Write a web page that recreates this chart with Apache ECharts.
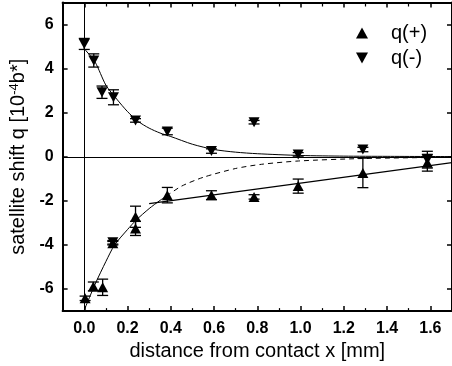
<!DOCTYPE html>
<html>
<head>
<meta charset="utf-8">
<script src="https://cdn.jsdelivr.net/npm/echarts@6/dist/echarts.min.js"></script>
<style>
html,body{margin:0;padding:0;background:#fff;}
#c{width:452px;height:366px;}
</style>
</head>
<body>
<div id="c"></div>
<script>
// ---- data ----
var qPlusX   = [0.004, 0.042, 0.085, 0.132, 0.237, 0.237, 0.384, 0.588, 0.785, 0.989, 1.288, 1.586];
var qPlusY   = [-6.42, -5.88, -5.92, -3.92, -2.72, -3.25, -1.74, -1.74, -1.82, -1.33, -0.73, -0.27];
var qPlusErr = [0.10, 0.20, 0.37, 0.08, 0.48, 0.32, 0.35, 0.20, 0.10, 0.32, 0.67, 0.38];

var qMinusX   = [0.0, 0.044, 0.082, 0.132, 0.135, 0.237, 0.384, 0.588, 0.785, 0.989, 1.288, 1.586];
var qMinusY   = [5.12, 4.37, 2.93, -3.88, 2.70, 1.65, 1.15, 0.26, 1.57, 0.11, 0.33, -0.13];
var qMinusErr = [0.25, 0.30, 0.28, 0.08, 0.34, 0.08, 0.15, 0.10, 0.08, 0.08, 0.10, 0.38];

// fit curves
var fitMinusX = [0.0, 0.05, 0.1, 0.15, 0.2, 0.25, 0.3, 0.35, 0.4, 0.5, 0.6, 0.7, 0.8, 1.0, 1.2, 1.4, 1.7];
var fitMinusY = [4.9, 4.3, 3.25, 2.62, 2.05, 1.6, 1.3, 1.08, 0.92, 0.57, 0.33, 0.21, 0.14, 0.06, 0.03, 0.02, 0.01];

var fitPlusSolidX = [0.0, 0.05, 0.1, 0.14, 0.2, 0.24, 0.3, 0.35, 0.38];
var fitPlusSolidY = [-6.95, -5.78, -4.75, -4.0, -3.3, -2.87, -2.35, -1.98, -1.78];

var fitPlusDashX = [0.38, 0.45, 0.55, 0.7, 0.82, 0.99, 1.28, 1.7];
var fitPlusDashY = [-1.78, -1.33, -0.93, -0.53, -0.34, -0.19, -0.08, -0.02];

var linFitX = [0.30, 1.70];
var linFitY = [-2.12, -0.26];

var xMin = -0.1, xMax = 1.7, yMin = -7, yMax = 7;

// ---- helpers ----
function pairs(xs, ys){ return xs.map(function(x,i){ return [x, ys[i]]; }); }
function errData(xs, ys, es){ return xs.map(function(x,i){ return [x, ys[i]-es[i], ys[i]+es[i]]; }); }

var FONT = "'Liberation Sans', Arial, sans-serif";

function errorBarSeries(name, xs, ys, es){
  return {
    type: 'custom',
    name: name + '_err',
    silent: true,
    z: 3,
    renderItem: function(params, api){
      var x = api.value(0);
      var lo = api.coord([x, api.value(1)]);
      var hi = api.coord([x, api.value(2)]);
      var cw = 5.5;
      var st = {stroke:'#000', lineWidth:1.3};
      return {
        type:'group',
        children:[
          {type:'line', shape:{x1:lo[0], y1:lo[1], x2:hi[0], y2:hi[1]}, style:st},
          {type:'line', shape:{x1:lo[0]-cw, y1:lo[1], x2:lo[0]+cw, y2:lo[1]}, style:st},
          {type:'line', shape:{x1:hi[0]-cw, y1:hi[1], x2:hi[0]+cw, y2:hi[1]}, style:st}
        ]
      };
    },
    encode:{x:0, y:[1,2]},
    data: errData(xs, ys, es)
  };
}

function lineSeries(xs, ys, dashed){
  return {
    type:'line',
    data: pairs(xs, ys),
    showSymbol:false,
    symbol:'none',
    smooth:0.25,
    silent:true,
    z:2,
    lineStyle:{color:'#000', width:1, type: dashed ? [5,4] : 'solid'}
  };
}

var axisCommon = {
  type:'value',
  splitLine:{show:false},
  axisLine:{show:true, onZero:false, lineStyle:{color:'#000', width:2}},
  axisTick:{show:true, inside:true, length:5, lineStyle:{color:'#000', width:1.5}}
};

var chart = echarts.init(document.getElementById('c'), null, {renderer:'canvas'});
chart.setOption({
  animation:false,
  backgroundColor:'#fff',
  textStyle:{fontFamily:FONT},
  grid:{left:56, top:2.5, width:397, height:309.5, containLabel:false},
  legend:{
    orient:'vertical',
    left:356, top:23, padding:0,
    itemWidth:12, itemHeight:11, itemGap:5,
    textStyle:{fontFamily:FONT, fontSize:20, color:'#000', padding:[0,0,0,18]},
    data:[
      {name:'q(+)', icon:'triangle', itemStyle:{color:'#000', opacity:1}},
      {name:'q(-)', icon:'path://M0,0L10,0L5,9Z', itemStyle:{color:'#000', opacity:1}}
    ]
  },
  xAxis:[
    Object.assign({}, axisCommon, {
      position:'bottom', min:xMin, max:xMax, splitNumber:9,
      minorTick:{show:true, splitNumber:2, length:3, lineStyle:{color:'#000', width:1.2}},
      axisLabel:{show:true, margin:9, color:'#000', fontSize:16, fontWeight:'bold', fontFamily:FONT,
        showMinLabel:false, showMaxLabel:false,
        formatter:function(v){ return v.toFixed(1); }},
      name:'distance from contact x [mm]', nameLocation:'middle', nameGap:27,
      nameTextStyle:{fontSize:20, color:'#000', fontFamily:FONT}
    }),
    Object.assign({}, axisCommon, {
      position:'top', min:xMin, max:xMax, splitNumber:9,
      minorTick:{show:true, splitNumber:2, length:4, lineStyle:{color:'#000', width:1.2}},
      axisLabel:{show:false}
    })
  ],
  yAxis:[
    Object.assign({}, axisCommon, {
      position:'left', min:yMin, max:yMax, splitNumber:7,
      axisLabel:{show:true, margin:9, color:'#000', fontSize:16, fontWeight:'bold', fontFamily:FONT,
        showMinLabel:false, showMaxLabel:false,
        formatter:function(v){ return String(v); }},
      name:'satellite shift q [10{s|-4}b*]', nameLocation:'middle', nameGap:30,
      nameTextStyle:{fontSize:20, color:'#000', fontFamily:FONT,
        rich:{s:{fontSize:13, fontFamily:FONT, color:'#000', verticalAlign:'top', padding:[0,0,8,0]}}}
    }),
    Object.assign({}, axisCommon, {
      position:'right', min:yMin, max:yMax, splitNumber:7,
      axisLabel:{show:false}
    })
  ],
  series:[
    {
      type:'line', data:[], silent:true, symbol:'none',
      markLine:{
        silent:true, symbol:['none','none'], animation:false,
        label:{show:false},
        lineStyle:{color:'#000', width:1, type:'solid'},
        data:[{xAxis:0}, {yAxis:0}]
      }
    },
    lineSeries(fitMinusX, fitMinusY, false),
    lineSeries(fitPlusSolidX, fitPlusSolidY, false),
    lineSeries(fitPlusDashX, fitPlusDashY, true),
    Object.assign(lineSeries(linFitX, linFitY, false), {smooth:false, lineStyle:{color:'#000', width:1.3}}),
    errorBarSeries('q(+)', qPlusX, qPlusY, qPlusErr),
    errorBarSeries('q(-)', qMinusX, qMinusY, qMinusErr),
    {
      name:'q(+)', type:'scatter', z:4,
      symbol:'triangle', symbolSize:[11,10],
      itemStyle:{color:'#000', opacity:1},
      data: pairs(qPlusX, qPlusY)
    },
    {
      name:'q(-)', type:'scatter', z:4,
      symbol:'triangle', symbolRotate:180, symbolSize:[11,10],
      itemStyle:{color:'#000', opacity:1},
      data: pairs(qMinusX, qMinusY)
    }
  ]
});
</script>
</body>
</html>
